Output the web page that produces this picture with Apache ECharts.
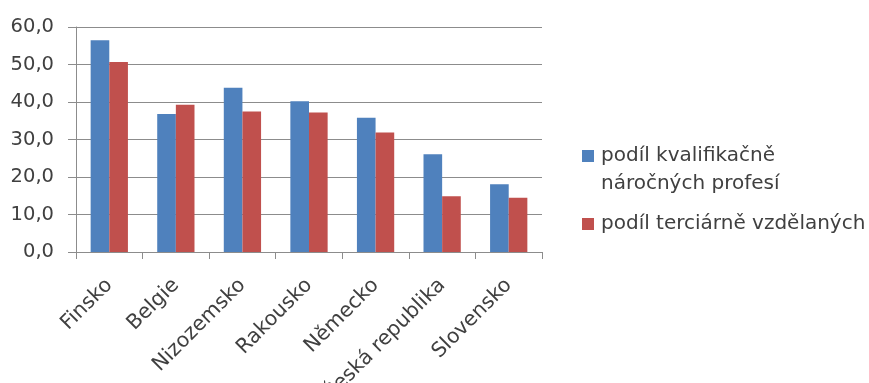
<!DOCTYPE html>
<html>
<head>
<meta charset="utf-8">
<script src="https://cdn.jsdelivr.net/npm/echarts@6/dist/echarts.min.js"></script>
<style>
html,body{margin:0;padding:0;background:#fff;}
#c{width:869px;height:383px;}
</style>
</head>
<body>
<div id="c"></div>
<script>
const categories = ['Finsko','Belgie','Nizozemsko','Rakousko','Německo','Česká republika','Slovensko'];
const seriesNames = ['podíl kvalifikačně\nnáročných profesí','podíl terciárně vzdělaných'];
const qualifiedShare = [56.5, 36.8, 43.8, 40.2, 35.8, 26.1, 18.1];
const tertiaryShare = [50.7, 39.3, 37.5, 37.2, 31.9, 14.9, 14.5];
const yTicks = [0, 10, 20, 30, 40, 50, 60];

const FONT = 'DejaVu Sans';
const TXT = '#404040';
const chart = echarts.init(document.getElementById('c'), null, {renderer:'canvas'});
chart.setOption({
  animation:false,
  textStyle:{fontFamily:FONT},
  grid:{left:76, right:327, top:27, bottom:131, containLabel:false, outerBoundsMode:'none'},
  legend:{
    orient:'vertical', left:582, top:114, padding:0, itemGap:12,
    itemWidth:12, itemHeight:12, icon:'rect',
    textStyle:{fontFamily:FONT, fontSize:20, color:TXT, lineHeight:28, padding:[0,0,0,2]},
    formatter: name => name.indexOf('\n') >= 0 ? '\u200b\n' + name : name,
    data:[seriesNames[0], seriesNames[1]]
  },
  xAxis:{
    type:'category', data:categories,
    axisLine:{lineStyle:{color:'#8c8c8c', width:1}},
    axisTick:{show:true, length:7, lineStyle:{color:'#8c8c8c'}},
    axisLabel:{rotate:45, fontFamily:FONT, fontSize:20.5, color:TXT, margin:30, interval:0}
  },
  yAxis:{
    type:'value', min:yTicks[0], max:yTicks[yTicks.length-1], interval:10,
    axisLine:{show:true, lineStyle:{color:'#8c8c8c'}},
    axisTick:{show:true, length:8, lineStyle:{color:'#8c8c8c'}},
    splitLine:{lineStyle:{color:'#8c8c8c', width:1}},
    axisLabel:{fontFamily:FONT, fontSize:19.5, color:TXT, margin:22,
      formatter:v=>v.toFixed(1).replace('.',',')}
  },
  series:[
    {name:seriesNames[0], type:'bar', data:qualifiedShare, barGap:'0%', barCategoryGap:'44%',
     itemStyle:{color:'#4F81BD'}},
    {name:seriesNames[1], type:'bar', data:tertiaryShare, barGap:'0%', barCategoryGap:'44%',
     itemStyle:{color:'#C0504D'}}
  ]
});
</script>
</body>
</html>
